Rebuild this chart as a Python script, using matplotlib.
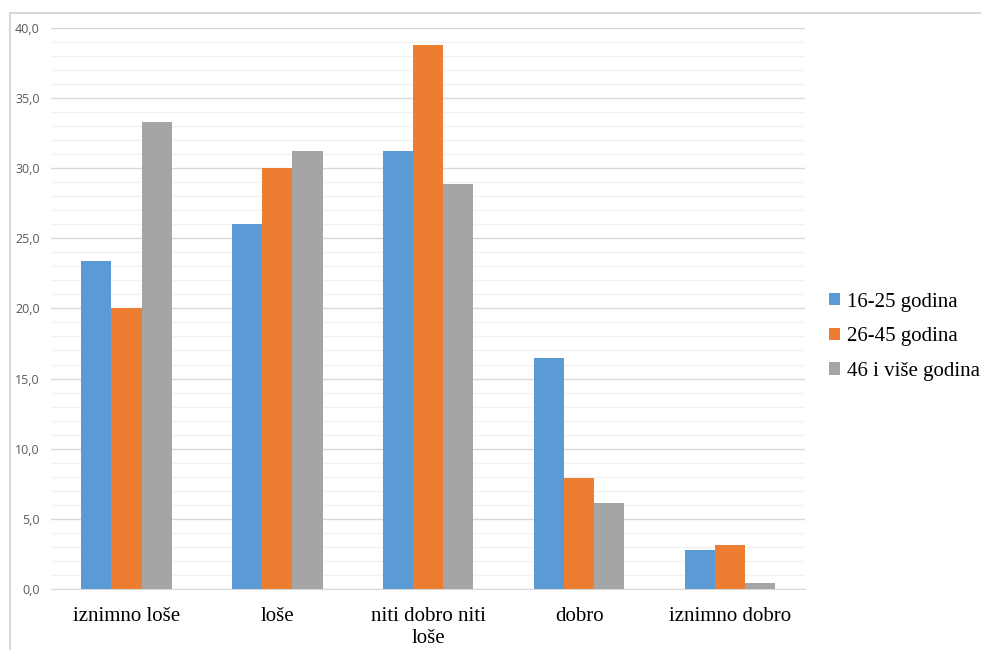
import matplotlib
matplotlib.use("Agg")
import matplotlib.pyplot as plt
import numpy as np
from matplotlib.patches import Rectangle

# data
categories = ["iznimno loše", "loše", "niti dobro niti\nloše", "dobro", "iznimno dobro"]
g16_25 = [23.4, 26.0, 31.2, 16.5, 2.8]
g26_45 = [20.0, 30.0, 38.8, 7.9, 3.1]
g46_plus = [33.3, 31.2, 28.9, 6.1, 0.4]
series_labels = ["16-25 godina", "26-45 godina", "46 i više godina"]
yticks = [0, 5, 10, 15, 20, 25, 30, 35, 40]

colors = ["#5b9bd5", "#ed7d31", "#a5a5a5"]

fig = plt.figure(figsize=(9.81, 6.5), dpi=100)
ax = fig.add_axes([0.052, 0.094, 0.769, 0.863])

x = np.arange(len(categories))
w = 0.2
for i, (vals, lab) in enumerate(zip([g16_25, g26_45, g46_plus], series_labels)):
    ax.bar(x + (i - 1) * w, vals, w, color=colors[i], label=lab, zorder=3)

ax.set_xlim(-0.5, len(categories) - 0.5)
ax.set_ylim(0, 40)
ax.set_yticks(yticks)
ax.set_yticklabels([f"{v:.1f}".replace(".", ",") for v in yticks],
                   fontsize=9, color="#595959", family="Open Sans")
ax.set_yticks(np.arange(0, 41, 1), minor=True)
ax.grid(axis="y", which="major", color="#d9d9d9", lw=1, zorder=0)
ax.grid(axis="y", which="minor", color="#f2f2f2", lw=1, zorder=0)
ax.tick_params(axis="y", which="both", length=0, pad=8)

ax.set_xticks(x)
ax.set_xticklabels(categories, fontsize=15, family="Liberation Serif", color="#000000",
                   linespacing=1.25)
ax.tick_params(axis="x", length=0, pad=13)

for s in ["top", "right", "left"]:
    ax.spines[s].set_visible(False)
ax.spines["bottom"].set_color("#d9d9d9")

leg = fig.legend(loc="center left", bbox_to_anchor=(0.845, 0.482), frameon=False,
                 prop={"family": "Liberation Serif", "size": 15},
                 handlelength=0.55, handleheight=0.55, handletextpad=0.3, labelspacing=0.75,
                 borderaxespad=0, borderpad=0)

# light frame around the chart area
fig.patches.append(Rectangle((0.0105, -0.1), 1.2, 1.08, transform=fig.transFigure,
                             fill=False, edgecolor="#d0d0d0", lw=1.2))

fig.savefig("out.png", dpi=100)
